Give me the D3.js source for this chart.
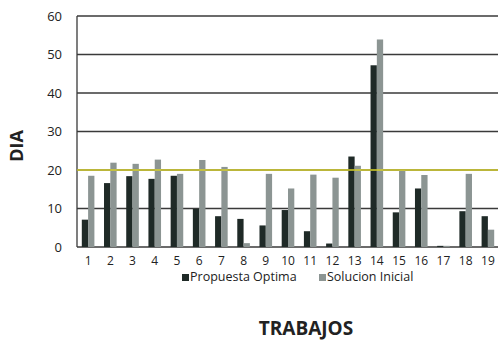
<!DOCTYPE html>
<html>
<head>
<meta charset="utf-8">
<script src="https://cdn.jsdelivr.net/npm/d3@7"></script>
<style>
  body { margin: 0; background: #fff; }
  svg { display: block; font-family: "Open Sans", sans-serif; }
</style>
</head>
<body>
<svg id="chart" width="498" height="340"></svg>
<script>
// Data
let trabajos = ["1","2","3","4","5","6","7","8","9","10","11","12","13","14","15","16","17","18","19"];
let propuestaOptima = [7.1, 16.6, 18.4, 17.7, 18.5, 9.9, 8.0, 7.3, 5.6, 9.6, 4.1, 0.9, 23.5, 47.2, 9.0, 15.2, 0.3, 9.3, 8.0];
let solucionInicial = [18.5, 21.9, 21.6, 22.7, 19.0, 22.6, 20.8, 1.0, 19.0, 15.2, 18.8, 18.0, 21.1, 53.9, 20.0, 18.7, 0.3, 19.0, 4.5];
let yTicks = [0, 10, 20, 30, 40, 50, 60];
let limite = 20;
let seriesNames = ["Propuesta Optima", "Solucion Inicial"];
let seriesColors = ["#1f2a27", "#8c9593"];

let svg = d3.select("#chart");

// plot area, gridlines run to the window edge like the original
let plotLeft = 77, plotRight = 499, plotTop = 16, plotBottom = 247;

let x = d3.scaleBand()
    .domain(trabajos)
    .range([plotLeft, plotRight])
    .paddingInner(0)
    .paddingOuter(0);

let inner = d3.scaleBand()
    .domain([0, 1])
    .range([0, 12.6]);

let y = d3.scaleLinear()
    .domain([0, 60])
    .range([plotBottom, plotTop]);

// gridlines
svg.append("g")
    .selectAll("line")
    .data(yTicks)
    .enter()
    .append("line")
    .attr("x1", plotLeft)
    .attr("x2", 498)
    .attr("y1", d => y(d))
    .attr("y2", d => y(d))
    .attr("stroke", "#3a3a3a")
    .attr("stroke-width", 1.3);

// left axis line
svg.append("line")
    .attr("x1", plotLeft).attr("x2", plotLeft)
    .attr("y1", y(60)).attr("y2", y(0))
    .attr("stroke", "#3a3a3a")
    .attr("stroke-width", 1.3);

// y tick labels
let yAxis = svg.append("g")
    .attr("transform", "translate(" + plotLeft + ",0)")
    .call(d3.axisLeft(y).tickValues(yTicks).tickSize(0).tickPadding(15));
yAxis.select(".domain").remove();
yAxis.selectAll("text")
    .style("font-size", "13px")
    .style("font-family", "Open Sans")
    .attr("fill", "#222");

// bars
let groups = svg.append("g")
    .selectAll("g")
    .data(trabajos)
    .enter()
    .append("g")
    .attr("transform", d => "translate(" + (x(d) + (x.bandwidth() - 12.6) / 2) + ",0)");

groups.selectAll("rect")
    .data((d, i) => [propuestaOptima[i], solucionInicial[i]])
    .enter()
    .append("rect")
    .attr("x", (d, i) => inner(i))
    .attr("width", inner.bandwidth())
    .attr("y", d => y(d))
    .attr("height", d => y(0) - y(d))
    .attr("fill", (d, i) => seriesColors[i]);

// yellow line at 20
svg.append("line")
    .attr("x1", plotLeft)
    .attr("x2", 498)
    .attr("y1", y(limite))
    .attr("y2", y(limite))
    .attr("stroke", "#d6cf2a")
    .attr("stroke-width", 1.6);

// x tick labels
let xAxis = svg.append("g")
    .attr("transform", "translate(0," + plotBottom + ")")
    .call(d3.axisBottom(x).tickSize(0).tickPadding(9));
xAxis.select(".domain").remove();
xAxis.selectAll("text")
    .style("font-size", "12px")
    .style("font-family", "Open Sans")
    .attr("fill", "#222");

// legend
let legendX = [182, 319];
let legend = svg.append("g")
    .selectAll("g")
    .data(seriesNames)
    .enter()
    .append("g")
    .attr("transform", (d, i) => "translate(" + legendX[i] + ",274)");

legend.append("rect")
    .attr("width", 7)
    .attr("height", 7)
    .attr("fill", (d, i) => seriesColors[i]);

legend.append("text")
    .attr("x", 8)
    .attr("y", 7)
    .style("font-size", "12.5px")
    .attr("fill", "#222")
    .text(d => d);

// axis titles
svg.append("text")
    .attr("transform", "translate(23,146) rotate(-90)")
    .attr("text-anchor", "middle")
    .style("font-size", "18px")
    .style("font-weight", "bold")
    .attr("fill", "#222")
    .text("DIA");

svg.append("text")
    .attr("x", 306)
    .attr("y", 335)
    .attr("text-anchor", "middle")
    .style("font-size", "19px")
    .style("font-weight", "bold")
    .attr("fill", "#222")
    .text("TRABAJOS");
</script>
</body>
</html>
